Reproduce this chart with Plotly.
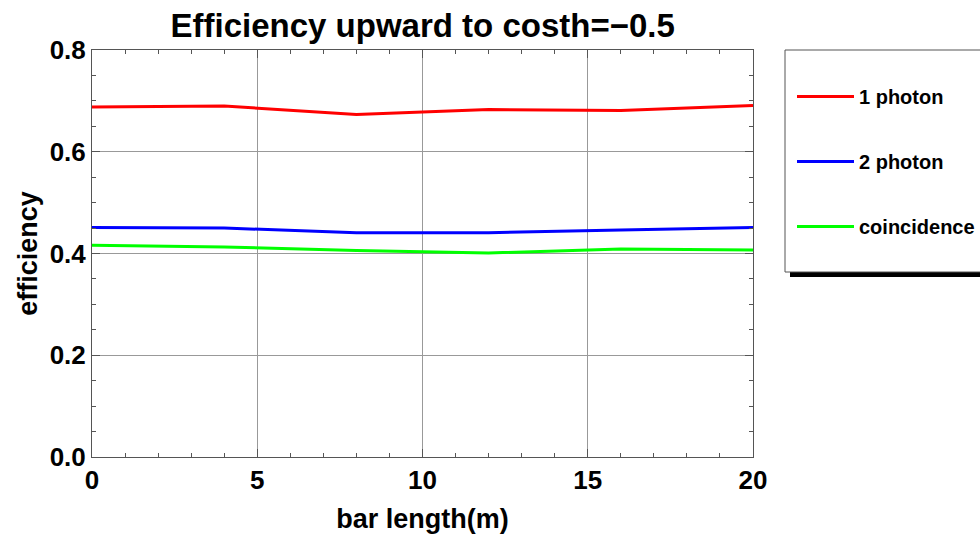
import plotly.graph_objects as go

bar_length = [0, 4, 8, 12, 16, 20]
one_photon = [0.688, 0.690, 0.673, 0.683, 0.681, 0.691]
two_photon = [0.451, 0.450, 0.441, 0.441, 0.446, 0.451]
coincidence = [0.416, 0.413, 0.406, 0.401, 0.409, 0.407]

series = [("1 photon", one_photon, "#ff0000"),
          ("2 photon", two_photon, "#0000ff"),
          ("coincidence", coincidence, "#00ff00")]

fig = go.Figure()
for i, (name, vals, col) in enumerate(series):
    fig.add_trace(go.Scatter(x=bar_length, y=vals, mode="lines", name=name,
                             legendgroup=str(i),
                             line=dict(color=col, width=3)))

font_family = "Liberation Sans, Arial, sans-serif"
axis_common = dict(
    showline=True, linecolor="#555555", linewidth=1, mirror="ticks",
    ticks="inside", ticklen=8, tickcolor="#555555",
    showgrid=True, gridcolor="#999999", gridwidth=1, zeroline=False,
    tickfont=dict(family=font_family, size=26, color="black", weight="bold"),
)

fig.update_layout(
    width=980, height=538,
    margin=dict(l=92, r=227, t=50, b=81, autoexpand=False),
    paper_bgcolor="white", plot_bgcolor="white",
    title=dict(text="<b>Efficiency upward to costh=\u22120.5</b>",
               x=0.4313, xanchor="center", y=0.953, yanchor="middle",
               font=dict(family=font_family, size=33, color="black")),
    xaxis=dict(range=[0, 20], dtick=5, tick0=0, automargin=False,
               minor=dict(dtick=1, ticklen=4, ticks="inside", tickcolor="#555555", showgrid=False),
               title=dict(text="<b>bar length(m)</b>", standoff=14,
                          font=dict(family=font_family, size=27, color="black")),
               **axis_common),
    yaxis=dict(range=[0, 0.8], dtick=0.2, tick0=0, tickformat=".1f", automargin=False,
               minor=dict(dtick=0.05, ticklen=4, ticks="inside", tickcolor="#555555", showgrid=False),
               title=dict(text="<b>efficiency</b>", standoff=4,
                          font=dict(family=font_family, size=27, color="black")),
               **axis_common),
    legend=dict(xref="container", yref="container",
                x=792 / 980, xanchor="left", y=1 - 77 / 538, yanchor="top",
                bgcolor="rgba(0,0,0,0)", borderwidth=0,
                tracegroupgap=36, itemwidth=57,
                font=dict(family=font_family, size=20, color="black", weight="bold")),
    showlegend=True,
)

# legend frame and shadow
fig.add_shape(type="rect", xref="paper", yref="paper",
              x0=(790 - 92) / 661, x1=(984 - 92) / 661,
              y0=(457 - 277) / 407, y1=(457 - 272) / 407,
              fillcolor="black", line=dict(width=0), layer="below")
fig.add_shape(type="rect", xref="paper", yref="paper",
              x0=(785 - 92) / 661, x1=(984 - 92) / 661,
              y0=(457 - 272) / 407, y1=(457 - 50) / 407,
              fillcolor="white", line=dict(color="#555555", width=1), layer="below")

fig.write_html("out.html")
